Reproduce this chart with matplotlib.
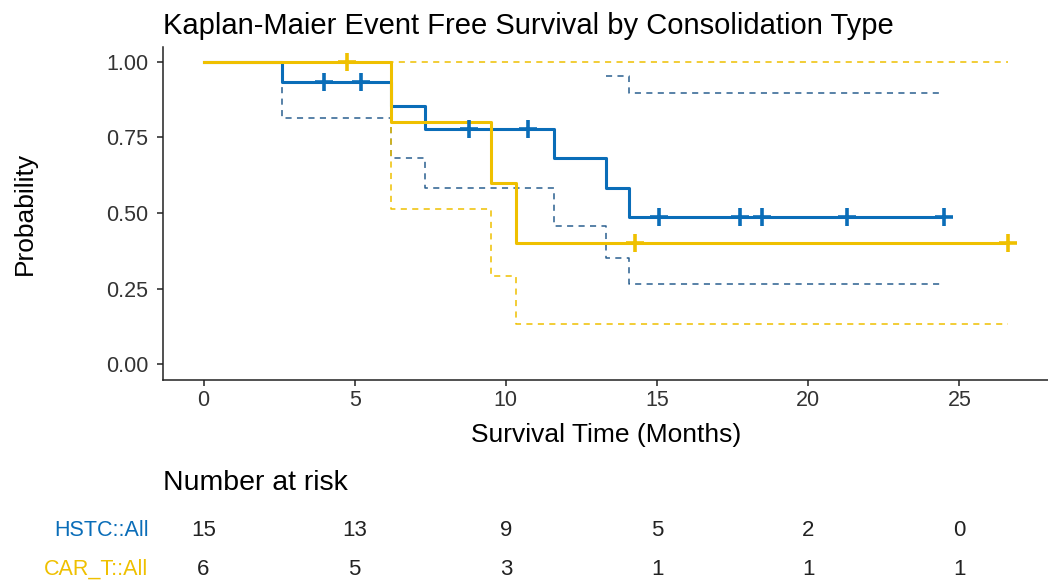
import numpy as np
import matplotlib
matplotlib.use("Agg")
import matplotlib.pyplot as plt
import matplotlib.transforms as mtransforms

plt.rcParams['font.family'] = ['Liberation Sans', 'DejaVu Sans']

# values
hstc_time = [0, 2.6, 6.19, 7.33, 11.58, 13.3, 14.08, 24.5]
hstc_surv = [1.0, 0.933, 0.855, 0.778, 0.681, 0.584, 0.486, 0.486]
hstc_lower = [1.0, 0.813, 0.683, 0.583, 0.458, 0.351, 0.265, 0.265]
hstc_upper_time = [13.3, 14.08, 24.5]
hstc_upper = [0.953, 0.896, 0.896]
hstc_censor = [4.0, 5.22, 8.79, 10.74, 15.07, 17.73, 18.47, 21.27, 24.5]

car_time = [0, 6.19, 9.51, 10.33, 26.6]
car_surv = [1.0, 0.8, 0.6, 0.4, 0.4]
car_lower = [1.0, 0.514, 0.292, 0.134, 0.134]
car_upper = [1.0, 1.0, 1.0, 1.0, 1.0]
car_censor = [4.76, 14.28, 26.6]

risk_times = [0, 5, 10, 15, 20, 25]
hstc_risk = [15, 13, 9, 5, 2, 0]
car_risk = [6, 5, 3, 1, 1, 1]

blue = '#0A6DB8'
yellow = '#EFC000'

fig = plt.figure(figsize=(10.48, 5.82), dpi=100)
W, H = 1048, 582
ax = fig.add_axes([163.3 / W, 1 - 380 / H, 1 - 163.3 / W, (380 - 46.7) / H])


def level_at(times, surv, t):
    idx = np.searchsorted(times, t, side='right') - 1
    return np.asarray(surv)[idx]


# confidence bands (dashed)
ax.step(hstc_time, hstc_lower, where='post', color='#2a5f8f', lw=1.1, dashes=(4, 3.5))
ax.step(hstc_upper_time, hstc_upper, where='post', color='#2a5f8f', lw=1.1, dashes=(4, 3.5))
ax.step(car_time, car_lower, where='post', color=yellow, lw=1.1, dashes=(4, 3.5))
ax.step(car_time, car_upper, where='post', color=yellow, lw=1.1, dashes=(4, 3.5))

# survival curves
ax.step(hstc_time, hstc_surv, where='post', color=blue, lw=2.2)
ax.step(car_time, car_surv, where='post', color=yellow, lw=2.2)

ax.plot(hstc_censor, level_at(hstc_time, hstc_surv, hstc_censor), ls='none',
        marker='+', ms=13, mew=2.6, color=blue, clip_on=False)
ax.plot(car_censor, level_at(car_time, car_surv, car_censor), ls='none',
        marker='+', ms=13, mew=2.6, color=yellow, clip_on=False)

ax.set_xlim(-1.33, 27.93)
ax.set_ylim(-0.052, 1.05)
ax.set_xticks(risk_times)
ax.set_yticks([0, 0.25, 0.5, 0.75, 1.0])
ax.set_yticklabels(['0.00', '0.25', '0.50', '0.75', '1.00'])
for s in ['top', 'right']:
    ax.spines[s].set_visible(False)
for s in ['left', 'bottom']:
    ax.spines[s].set_linewidth(1.1)
    ax.spines[s].set_color('#222222')
ax.tick_params(labelsize=15.5, length=4, width=1.1, color='#222222', labelcolor='#333333', pad=3)
ax.tick_params(axis='y', pad=7)
ax.set_xlabel('Survival Time (Months)', fontsize=19, labelpad=9)
ax.set_ylabel('Probability', fontsize=19)
ax.yaxis.set_label_coords(-0.143, 0.5)
ax.set_title('Kaplan-Maier Event Free Survival by Consolidation Type', loc='left',
             fontsize=21, pad=9.5)

# number at risk table
tr = mtransforms.blended_transform_factory(ax.transData, fig.transFigure)
row_y = [1 - 536 / H, 1 - 575 / H]
for t, n in zip(risk_times, hstc_risk):
    ax.text(t, row_y[0], str(n), ha='center', va='baseline', fontsize=16,
            color='#222222', transform=tr, clip_on=False)
for t, n in zip(risk_times, car_risk):
    ax.text(t, row_y[1], str(n), ha='center', va='baseline', fontsize=16,
            color='#222222', transform=tr, clip_on=False)
ax.text(-1.82, row_y[0], 'HSTC::All', ha='right', va='baseline', fontsize=15.5,
        color=blue, transform=tr, clip_on=False)
ax.text(-1.82, row_y[1], 'CAR_T::All', ha='right', va='baseline', fontsize=15.5,
        color=yellow, transform=tr, clip_on=False)
fig.text(163 / W, 1 - 490 / H, 'Number at risk', ha='left', va='baseline', fontsize=20.5)

fig.savefig('out.png', dpi=100)
